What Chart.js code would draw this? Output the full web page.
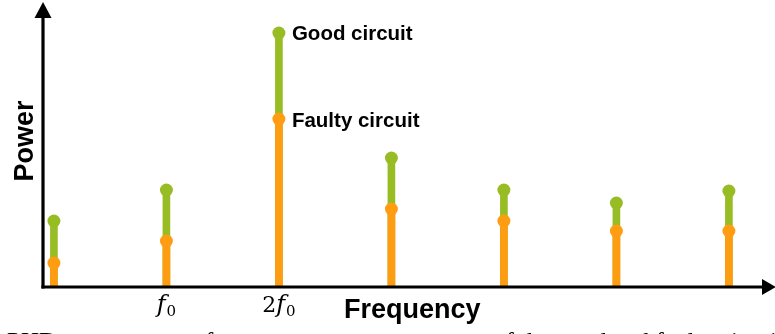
<!DOCTYPE html>
<html>
<head>
<meta charset="utf-8">
<script src="https://cdn.jsdelivr.net/npm/chart.js@4/dist/chart.umd.min.js"></script>
<style>
  html, body { margin: 0; padding: 0; background: #ffffff; }
  canvas { display: block; }
</style>
</head>
<body>
<canvas id="spectrum" width="775" height="334"></canvas>
<script>
// Harmonic index of each spectral line (0 = DC, 1 = f0, 2 = 2f0, ...)
const harmonics = [0, 1, 2, 3, 4, 5, 6];
// Tick labels: [upright prefix, italic symbol, subscript]
const tickLabels = [null, ['', 'f', '0'], ['2', 'f', '0'], null, null, null, null];
// Power of each spectral line (arbitrary units)
const goodPower   = [66, 97, 254, 129, 97, 84, 96];
const faultyPower = [24, 46, 168, 78, 66, 56, 56];
const seriesNames = ['Good circuit', 'Faulty circuit'];
const axisTitles  = { x: 'Frequency', y: 'Power' };
const captionText = 'PHD mean power of our measures on responses of the good and faulty circuits.';

const GREEN  = '#98bd24';
const ORANGE = '#ff9d12';

const toPoints = vals => harmonics.map((h, i) => ({ x: h, y: vals[i] }));

// Axes with arrowheads, axis titles, math tick labels and series labels
const decorations = {
  id: 'decorations',
  afterDatasetsDraw(chart) {
    const { ctx, chartArea, scales } = chart;
    const xs = scales.x, ys = scales.y;
    const x0 = chartArea.left, y0 = ys.getPixelForValue(0);
    ctx.save();
    ctx.strokeStyle = '#000';
    ctx.fillStyle = '#000';
    ctx.lineWidth = 3.2;
    ctx.lineCap = 'butt';
    // y axis
    ctx.beginPath();
    ctx.moveTo(x0, y0 + 1.6);
    ctx.lineTo(x0, 14);
    ctx.stroke();
    ctx.beginPath();
    ctx.moveTo(x0, 2);
    ctx.lineTo(x0 - 8.5, 18);
    ctx.lineTo(x0 + 8.5, 18);
    ctx.closePath();
    ctx.fill();
    // x axis
    ctx.beginPath();
    ctx.moveTo(x0 - 1.6, y0);
    ctx.lineTo(765, y0);
    ctx.stroke();
    ctx.beginPath();
    ctx.moveTo(776, y0);
    ctx.lineTo(762, y0 - 8);
    ctx.lineTo(762, y0 + 8);
    ctx.closePath();
    ctx.fill();

    // axis titles
    ctx.font = 'bold 27px "Liberation Sans", Arial, sans-serif';
    ctx.textBaseline = 'alphabetic';
    ctx.textAlign = 'left';
    ctx.fillText(axisTitles.x, 344, 318);
    ctx.save();
    ctx.translate(33, 141);
    ctx.rotate(-Math.PI / 2);
    ctx.textAlign = 'center';
    ctx.fillText(axisTitles.y, 0, 0);
    ctx.restore();

    // tick labels f0, 2f0
    harmonics.forEach((h, i) => {
      const lab = tickLabels[i];
      if (!lab) return;
      const [pre, sym, sub] = lab;
      const fPre = '22px "DejaVu Serif", serif';
      const fSym = 'italic 24px "DejaVu Serif", serif';
      const fSub = '15px "DejaVu Serif", serif';
      ctx.font = fPre; const wPre = pre ? ctx.measureText(pre).width : 0;
      ctx.font = fSym; const wSym = ctx.measureText(sym).width + 1;
      ctx.font = fSub; const wSub = ctx.measureText(sub).width;
      let x = xs.getPixelForValue(h) - (wPre + wSym + wSub) / 2;
      const base = 312;
      ctx.textAlign = 'left';
      if (pre) { ctx.font = fPre; ctx.fillText(pre, x, base); x += wPre; }
      ctx.font = fSym; ctx.fillText(sym, x, base); x += wSym;
      ctx.font = fSub; ctx.fillText(sub, x, base + 4);
    });

    // series labels next to the tallest line
    const peak = goodPower.indexOf(Math.max(...goodPower));
    const lx = xs.getPixelForValue(harmonics[peak]) + 13;
    ctx.font = 'bold 20.5px "Liberation Sans", Arial, sans-serif';
    ctx.textBaseline = 'middle';
    ctx.fillText(seriesNames[0], lx, ys.getPixelForValue(goodPower[peak]) + 1);
    ctx.fillText(seriesNames[1], lx, ys.getPixelForValue(faultyPower[peak]) + 2);

    // caption line below the figure
    ctx.font = '25px "Liberation Serif", serif';
    ctx.textBaseline = 'alphabetic';
    ctx.fillText(captionText, 7, 349.5);
    ctx.restore();
  }
};

new Chart(document.getElementById('spectrum'), {
  type: 'bar',
  data: {
    datasets: [
      { label: seriesNames[0], data: toPoints(goodPower), backgroundColor: GREEN,
        barThickness: 7, grouped: false, order: 4 },
      { label: seriesNames[1], data: toPoints(faultyPower), backgroundColor: ORANGE,
        barThickness: 7, grouped: false, order: 3 },
      { type: 'line', label: seriesNames[0] + ' peak', data: toPoints(goodPower), showLine: false,
        pointRadius: 6.5, pointBackgroundColor: GREEN, pointBorderWidth: 0, order: 2 },
      { type: 'line', label: seriesNames[1] + ' peak', data: toPoints(faultyPower), showLine: false,
        pointRadius: 6.5, pointBackgroundColor: ORANGE, pointBorderWidth: 0, order: 1 }
    ]
  },
  options: {
    responsive: false,
    animation: false,
    layout: { padding: { left: 43, right: 3, top: 8, bottom: 47 } },
    plugins: { legend: { display: false }, tooltip: { enabled: false } },
    scales: {
      x: { type: 'linear', min: -0.097, max: 6.352, display: false, offset: false },
      y: { min: 0, max: 279, display: false }
    }
  },
  plugins: [decorations]
});
</script>
</body>
</html>
